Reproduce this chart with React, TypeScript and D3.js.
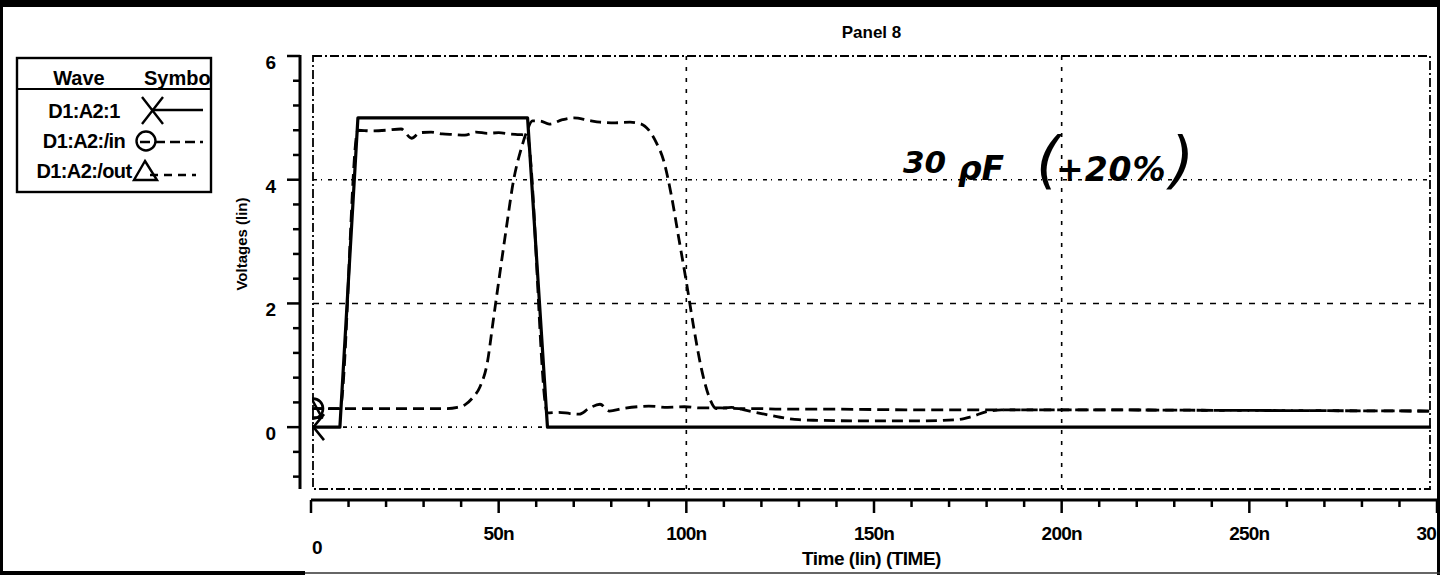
import React from 'react';
import * as d3 from 'd3';

// waveform samples, time in ns, voltage in V
const driveT = [0, 7.7, 12.5, 57.7, 63, 300];
const driveV = [0, 0, 5, 5, 0, 0];

const inT = [0, 7.7, 12.5, 16, 20, 24, 26.8, 29, 32, 35, 38, 41, 44, 47, 50, 53, 55.5, 57.5, 63, 66, 69, 71.5, 74, 77, 79.5, 83, 87, 90, 95, 99.5, 104, 109, 114, 119, 125, 140, 160, 180, 200, 250, 300];
const inV = [0.3, 0.3, 4.8, 4.79, 4.8, 4.82, 4.67, 4.76, 4.77, 4.74, 4.73, 4.72, 4.77, 4.75, 4.76, 4.74, 4.73, 4.72, 0.23, 0.24, 0.22, 0.21, 0.3, 0.37, 0.26, 0.3, 0.33, 0.34, 0.32, 0.33, 0.31, 0.31, 0.3, 0.3, 0.29, 0.29, 0.28, 0.28, 0.28, 0.27, 0.26];

const outT = [0, 10, 20, 30, 36, 39, 41, 43, 45, 47, 48.5, 50, 52, 54, 56, 57.5, 59, 61, 63.5, 67, 70, 74, 77, 81, 85, 88, 90, 92, 94, 96, 98, 100, 102, 104, 106, 108, 112, 116, 120, 125, 130, 135, 150, 160, 172, 176, 180, 184, 190, 200, 250, 300];
const outV = [0.3, 0.3, 0.3, 0.3, 0.3, 0.32, 0.36, 0.47, 0.65, 1.05, 1.7, 2.35, 3.2, 4.0, 4.5, 4.78, 4.95, 4.95, 4.9, 4.97, 5.0, 4.96, 4.93, 4.92, 4.93, 4.9, 4.8, 4.6, 4.3, 3.75, 3.05, 2.35, 1.6, 0.95, 0.5, 0.3, 0.32, 0.27, 0.22, 0.16, 0.12, 0.11, 0.1, 0.1, 0.12, 0.17, 0.25, 0.28, 0.28, 0.28, 0.27, 0.26];

const xMajor = [0, 50, 100, 150, 200, 250, 300];
// the last label is cut by the page edge in the original, only "30" shows
const xLabels = ['0', '50n', '100n', '150n', '200n', '250n', '30'];
const yMajor = [0, 2, 4, 6];
const yLabels = ['0', '2', '4', '6'];
const legendNames = ['D1:A2:1', 'D1:A2:/in', 'D1:A2:/out'];

const font = '"Liberation Sans", Arial, sans-serif';

export default function App() {
  const x = d3.scaleLinear().domain([0, 300]).range([311, 1437]);
  const y = d3.scaleLinear().domain([-1, 6]).range([489, 56]);

  const xMinor = d3.range(0, 301, 10);
  const yMinor = d3.range(-0.8, 6.01, 0.4);

  const straight = d3.line<number>().x((d, i) => x(driveT[i])).y(d => y(d));
  const smoothIn = d3.line<number>().x((d, i) => x(inT[i])).y(d => y(d)).curve(d3.curveMonotoneX);
  const smoothOut = d3.line<number>().x((d, i) => x(outT[i])).y(d => y(d)).curve(d3.curveMonotoneX);

  const left = x(0) + 2;
  const right = x(300) - 7;
  const top = y(6);
  const bottom = y(-1);
  const axisY = 500;
  const axisX = 300;

  const labelX = (t: number) => (t === 0 ? x(t) + 6 : t === 300 ? x(t) - 1 : x(t));
  const labelAnchor = (t: number) => (t === 300 ? 'end' : 'middle');

  return (
    <svg width={1454} height={575} style={{ display: 'block', background: '#fff' }}>
      <style>{'body{margin:0}'}</style>
      <defs>
        <clipPath id="plot">
          <rect x={left - 1} y={top} width={right - left + 2} height={bottom - top} />
        </clipPath>
        <clipPath id="legend">
          <rect x={17} y={58} width={194} height={134} />
        </clipPath>
      </defs>

      {/* title */}
      <text x={(left + right) / 2} y={38} textAnchor="middle" fontFamily={font} fontWeight="bold" fontSize={17}>Panel 8</text>

      {/* plot frame */}
      <rect x={left} y={top} width={right - left} height={bottom - top} fill="none" stroke="#000" strokeWidth={1.8} strokeDasharray="9,3,2,3" />

      {/* grid */}
      {[0, 4].map(v => (
        <line key={'g' + v} x1={left} x2={right} y1={y(v)} y2={y(v)} stroke="#000" strokeWidth={1.6} strokeDasharray="4,4,1,6" />
      ))}
      <line x1={left} x2={right} y1={y(2)} y2={y(2)} stroke="#000" strokeWidth={1.6} strokeDasharray="6,7" />
      {[100, 200].map(t => (
        <line key={'v' + t} x1={x(t)} x2={x(t)} y1={top} y2={bottom} stroke="#000" strokeWidth={1.6} strokeDasharray="4,7" />
      ))}

      {/* y axis */}
      <line x1={axisX} x2={axisX} y1={top - 1} y2={bottom} stroke="#000" strokeWidth={3} />
      {yMinor.map(v => {
        const major = Math.abs(v / 2 - Math.round(v / 2)) < 1e-6;
        return <line key={'yt' + v.toFixed(1)} x1={axisX - (major ? 13 : 7)} x2={axisX} y1={y(v)} y2={y(v)} stroke="#000" strokeWidth={2.5} />;
      })}
      {yMajor.map((v, i) => (
        <text key={'yl' + v} x={276} y={y(v) + 13} textAnchor="end" fontFamily={font} fontWeight="bold" fontSize={19}>{yLabels[i]}</text>
      ))}
      <text transform="translate(247,244) rotate(-90)" textAnchor="middle" fontFamily={font} fontWeight="bold" fontSize={15}>Voltages (lin)</text>

      {/* x axis */}
      <line x1={x(0)} x2={x(300)} y1={axisY} y2={axisY} stroke="#000" strokeWidth={3} />
      {xMinor.map(t => (
        <line key={'xt' + t} x1={x(t)} x2={x(t)} y1={axisY} y2={axisY + (t % 50 === 0 ? 13 : 7)} stroke="#000" strokeWidth={2.5} />
      ))}
      {xMajor.map((t, i) => (
        <text key={'xl' + t} x={labelX(t)} y={t === 0 ? 554 : 540} textAnchor={labelAnchor(t)} fontFamily={font} fontWeight="bold" fontSize={19} letterSpacing={-0.8}>{xLabels[i]}</text>
      ))}
      <text x={(left + right) / 2} y={565} textAnchor="middle" fontFamily={font} fontWeight="bold" fontSize={19} letterSpacing={-0.5}>Time (lin) (TIME)</text>

      {/* waveforms */}
      <g clipPath="url(#plot)" fill="none" stroke="#000" strokeLinejoin="round">
        <path d={smoothOut(outV) || ''} strokeWidth={2.8} strokeDasharray="11,6" />
        <path d={smoothIn(inV) || ''} strokeWidth={2.8} strokeDasharray="12,6" />
        <path d={straight(driveV) || ''} strokeWidth={3.2} />
        {/* start markers */}
        <circle cx={x(0) + 2} cy={y(0.3)} r={10} strokeWidth={2.6} />
        <path d={`M${x(0) + 1},${y(0.3) - 9} L${x(0) + 11},${y(0.3) + 9} L${x(0) - 9},${y(0.3) + 9} Z`} strokeWidth={2.6} />
        <path d={`M${x(0) - 8},${y(0) - 13} L${x(0) + 13},${y(0) + 13} M${x(0) - 8},${y(0) + 13} L${x(0) + 13},${y(0) - 13}`} strokeWidth={2.6} />
      </g>

      {/* handwritten note */}
      <text fontFamily='"DejaVu Sans", sans-serif' fontStyle="italic" fontWeight="bold" fill="#000">
        <tspan x={903} y={173} fontSize={31}>30</tspan>
        <tspan x={958} y={180} fontSize={33}>ρF</tspan>
        <tspan x={1036} y={181} fontSize={62} fontWeight="normal">(</tspan>
        <tspan x={1056} y={181} fontSize={33} letterSpacing={1}>+20%</tspan>
        <tspan x={1170} y={181} fontSize={62} fontWeight="normal">)</tspan>
      </text>

      {/* legend */}
      <g fontFamily={font} fontWeight="bold" fontSize={20}>
        <g clipPath="url(#legend)">
          <text x={79} y={85} textAnchor="middle">Wave</text>
          <text x={144} y={85}>Symbol</text>
        </g>
        <line x1={17} x2={211} y1={89} y2={89} stroke="#000" strokeWidth={2} />
        <rect x={17} y={58} width={194} height={134} fill="none" stroke="#000" strokeWidth={2.4} />
        {legendNames.map((n, i) => (
          <text key={n} x={84} y={118 + i * 30} textAnchor="middle" letterSpacing={-0.6}>{n}</text>
        ))}
        <g fill="none" stroke="#000" strokeWidth={2.4}>
          <path d="M142,97 L163,124 M142,124 L163,97" />
          <line x1={152} x2={203} y1={110} y2={110} />
          <circle cx={146} cy={141} r={9.5} />
          <line x1={140} x2={203} y1={142} y2={142} strokeDasharray="10,5" />
          <path d="M145,161 L157,180 L134,180 Z" />
          <line x1={150} x2={196} y1={175} y2={175} strokeDasharray="8,6" />
        </g>
      </g>

      {/* outer page border */}
      <rect x={1440} y={0} width={14} height={575} fill="#fff" />
      <rect x={0} y={0} width={1440} height={7} fill="#000" />
      <line x1={1.5} x2={1.5} y1={0} y2={575} stroke="#000" strokeWidth={3} />
      <line x1={1438.5} x2={1438.5} y1={0} y2={575} stroke="#000" strokeWidth={3} />
      <line x1={0} x2={305} y1={573} y2={573} stroke="#000" strokeWidth={4} />
      <line x1={305} x2={1440} y1={573} y2={573} stroke="#333" strokeWidth={1.5} />
    </svg>
  );
}
